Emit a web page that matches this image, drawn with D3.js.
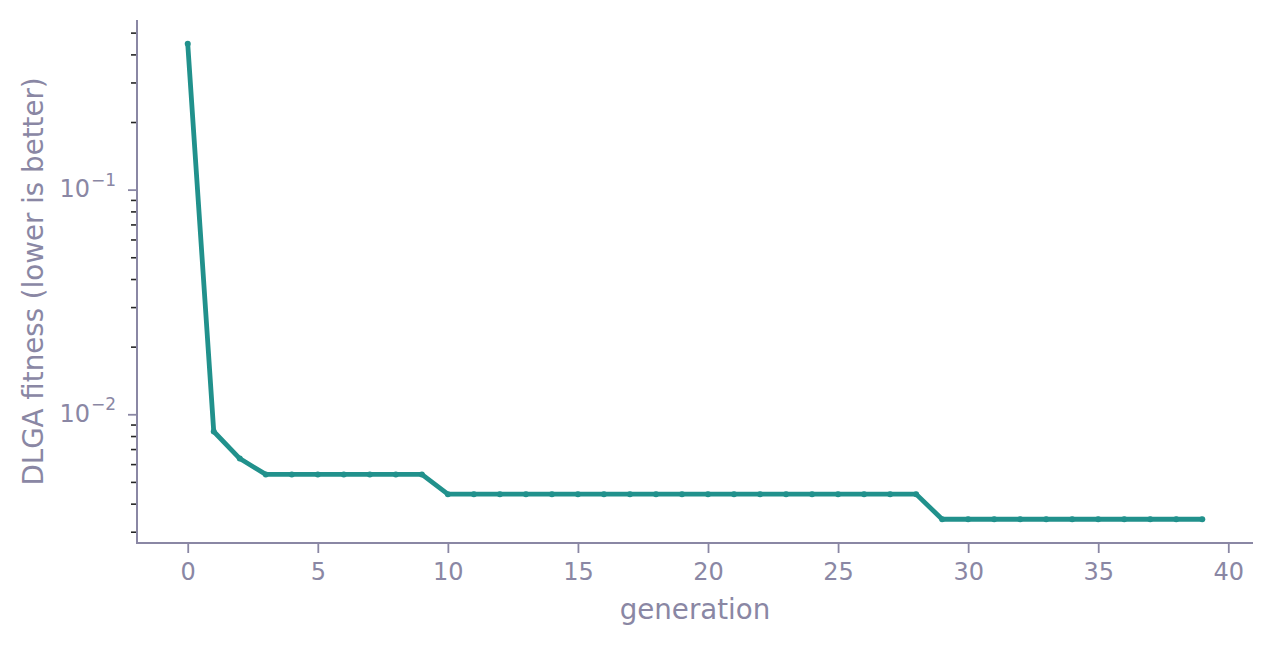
<!DOCTYPE html>
<html>
<head>
<meta charset="utf-8">
<script src="https://cdn.jsdelivr.net/npm/d3@7"></script>
<style>
  html, body { margin: 0; padding: 0; background: #fff; }
  svg { display: block; font-family: "DejaVu Sans", sans-serif; }
</style>
</head>
<body>
<svg id="chart" width="1272" height="646"></svg>
<script>
// ---- data ----
const generations = d3.range(0, 40);
const fitness = [
  0.446, 0.00838, 0.00635,
  0.0054, 0.0054, 0.0054, 0.0054, 0.0054, 0.0054, 0.0054,
  0.00441, 0.00441, 0.00441, 0.00441, 0.00441, 0.00441, 0.00441, 0.00441, 0.00441, 0.00441,
  0.00441, 0.00441, 0.00441, 0.00441, 0.00441, 0.00441, 0.00441, 0.00441, 0.00441,
  0.00341, 0.00341, 0.00341, 0.00341, 0.00341, 0.00341, 0.00341, 0.00341, 0.00341, 0.00341, 0.00341
];
const xTicks = [0, 5, 10, 15, 20, 25, 30, 35, 40];
const yMajorTicks = [0.1, 0.01];
const yMinorTicks = [0.5, 0.4, 0.3, 0.2, 0.09, 0.08, 0.07, 0.06, 0.05, 0.04, 0.03, 0.02,
                     0.009, 0.008, 0.007, 0.006, 0.005, 0.004, 0.003];
const xLabel = "generation";
const yLabel = "DLGA fitness (lower is better)";

(function () {
// ---- layout ----
const svg = d3.select("#chart");
const mLeft = 137, mRight = 1253, mTop = 20, mBottom = 543;
const axisColor = "#8a87a4";
const lineColor = "#21918c";
const tickFont = 24;

const xMin = d3.min(generations), xMax = d3.max(generations);
const xPad = (xMax - xMin) * 0.05;
const x = d3.scaleLinear().domain([xMin - xPad, xMax + xPad]).range([mLeft, mRight]);

const lMin = Math.log10(d3.min(fitness)), lMax = Math.log10(d3.max(fitness));
const lPad = (lMax - lMin) * 0.05;
const y = d3.scaleLog().domain([Math.pow(10, lMin - lPad), Math.pow(10, lMax + lPad)]).range([mBottom, mTop]);

const data = generations.map((g, i) => ({ g, v: fitness[i] }));

// ---- axes ----
const xAxis = d3.axisBottom(x).tickValues(xTicks).tickSize(10).tickPadding(10).tickFormat(d3.format("d"));
const gx = svg.append("g").attr("transform", `translate(0,${mBottom})`).call(xAxis);
gx.select(".domain").remove();
gx.selectAll(".tick line").attr("stroke", axisColor).attr("stroke-width", 1.8);
gx.selectAll(".tick text").attr("fill", axisColor).attr("font-size", tickFont)
  .attr("font-family", "DejaVu Sans");

// y minor ticks
const yMinor = d3.axisLeft(y).tickValues(yMinorTicks.filter(v => v >= y.domain()[0] && v <= y.domain()[1]))
  .tickSize(6).tickFormat("");
const gym = svg.append("g").attr("transform", `translate(${mLeft},0)`).call(yMinor);
gym.select(".domain").remove();
gym.selectAll(".tick line").attr("stroke", "#262626").attr("stroke-width", 1.6);

// y major ticks
const yMajor = d3.axisLeft(y).tickValues(yMajorTicks).tickSize(9).tickFormat("");
const gy = svg.append("g").attr("transform", `translate(${mLeft},0)`).call(yMajor);
gy.select(".domain").remove();
gy.selectAll(".tick line").attr("stroke", axisColor).attr("stroke-width", 1.8);
gy.selectAll(".tick").each(function(d) {
  const exp = Math.round(Math.log10(d));
  const t = d3.select(this).append("text")
    .attr("x", -21).attr("y", 0).attr("dy", "0.28em")
    .attr("text-anchor", "end").attr("fill", axisColor)
    .attr("font-size", tickFont).attr("font-family", "DejaVu Sans");
  t.append("tspan").text("10");
  t.append("tspan").attr("font-size", 17).attr("dy", "-0.65em").attr("dx", 1).text("\u2212" + Math.abs(exp));
});

// spines
svg.append("line").attr("x1", mLeft).attr("x2", mLeft).attr("y1", mTop).attr("y2", mBottom + 1)
  .attr("stroke", axisColor).attr("stroke-width", 2);
svg.append("line").attr("x1", mLeft - 1).attr("x2", mRight).attr("y1", mBottom).attr("y2", mBottom)
  .attr("stroke", axisColor).attr("stroke-width", 2);

// ---- line ----
const line = d3.line().x(d => x(d.g)).y(d => y(d.v));
svg.append("path").datum(data).attr("d", line)
  .attr("fill", "none").attr("stroke", lineColor).attr("stroke-width", 4.8)
  .attr("stroke-linejoin", "round");
svg.append("g").selectAll("circle").data(data).join("circle")
  .attr("cx", d => x(d.g)).attr("cy", d => y(d.v)).attr("r", 3)
  .attr("fill", lineColor);

// ---- labels ----
svg.append("text").attr("x", (mLeft + mRight) / 2).attr("y", 619)
  .attr("text-anchor", "middle").attr("fill", axisColor)
  .attr("font-size", 27.7).attr("font-family", "DejaVu Sans").text(xLabel);
svg.append("text").attr("transform", `translate(43,${(mTop + mBottom) / 2}) rotate(-90)`)
  .attr("text-anchor", "middle").attr("fill", axisColor)
  .attr("font-size", 27.7).attr("font-family", "DejaVu Sans").text(yLabel);
})();
</script>
</body>
</html>
